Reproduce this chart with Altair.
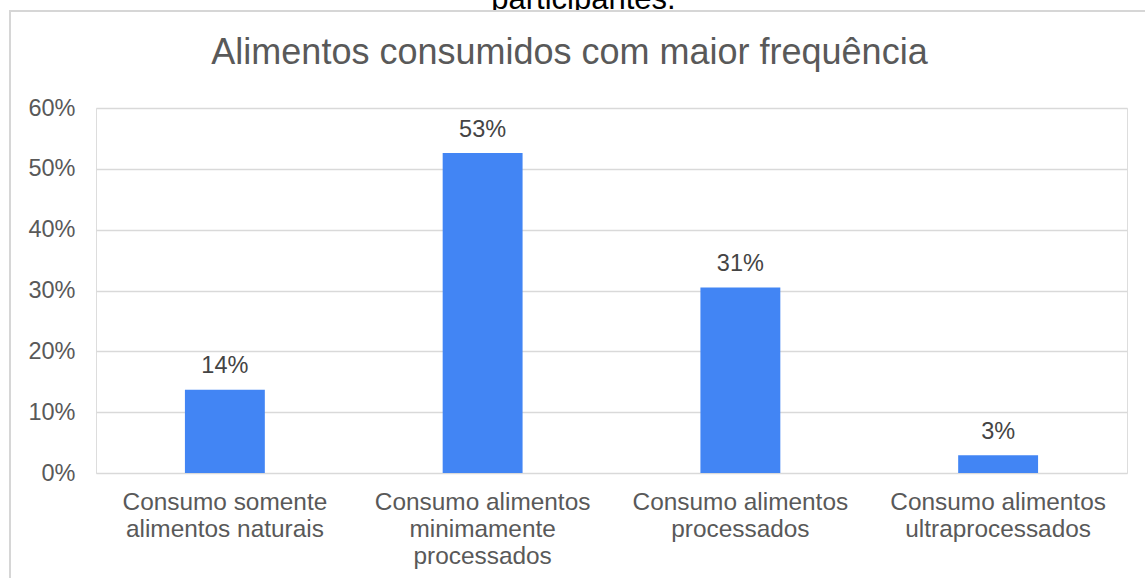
import altair as alt
import pandas as pd

categories = [
    "Consumo somente|alimentos naturais",
    "Consumo alimentos|minimamente|processados",
    "Consumo alimentos|processados",
    "Consumo alimentos|ultraprocessados",
]
values = [13.7, 52.6, 30.5, 2.9]
value_labels = ["14%", "53%", "31%", "3%"]
y_ticks = [0, 10, 20, 30, 40, 50, 60]
title_text = "Alimentos consumidos com maior frequência"
above_text = "participantes."

W, H = 1031, 365
PAD_L, PAD_T = 96, 108
FONT = "Liberation Sans"
BORDER = "#d6d6d6"

df = pd.DataFrame({"cat": categories, "val": values, "lab": value_labels})
one = pd.DataFrame({"t": [above_text]})
one_title = pd.DataFrame({"t": [title_text]})

above = alt.Chart(one).mark_text(
    fontSize=31, color="#000000", align="center", baseline="alphabetic", font=FONT
).encode(x=alt.value(583.5 - PAD_L), y=alt.value(9 - PAD_T), text="t:N")

cover = alt.Chart(one).mark_rect(fill="#ffffff", strokeWidth=0).encode(
    x=alt.value(10 - PAD_L), y=alt.value(11 - PAD_T),
    x2=alt.value(W + 60), y2=alt.value(40 - PAD_T)
)
top_border = alt.Chart(one).mark_rule(color=BORDER, strokeWidth=2).encode(
    x=alt.value(9 - PAD_L), x2=alt.value(W + 60), y=alt.value(11 - PAD_T)
)
left_border = alt.Chart(one).mark_rule(color=BORDER, strokeWidth=2).encode(
    x=alt.value(10 - PAD_L), y=alt.value(11 - PAD_T), y2=alt.value(H + 200)
)

title = alt.Chart(one_title).mark_text(
    fontSize=36, color="#595959", align="center", baseline="alphabetic", font=FONT
).encode(x=alt.value(569.5 - PAD_L), y=alt.value(64.3 - PAD_T), text="t:N")

xenc = alt.X(
    "cat:N", sort=None,
    scale=alt.Scale(paddingInner=0.69, paddingOuter=0.345),
    axis=alt.Axis(
        title=None, labelExpr="split(datum.label, '|')", labelAngle=0,
        labelFontSize=24.4, labelColor="#595959", labelFont=FONT,
        labelBaseline="alphabetic", labelPadding=36, labelLineHeight=27,
        labelLimit=400, labelOverlap=False, ticks=False, tickSize=0,
        domain=False, grid=False,
    ),
)
yenc = alt.Y(
    "val:Q",
    scale=alt.Scale(domain=[0, 60], nice=False),
    axis=alt.Axis(
        title=None, values=y_ticks, labelExpr="datum.value + '%'",
        labelFontSize=23.5, labelColor="#595959", labelFont=FONT,
        labelPadding=21, ticks=False, tickSize=0, domain=False,
        grid=True, gridColor="#d9d9d9", gridWidth=1.5,
    ),
)

bars = alt.Chart(df).mark_bar(color="#4285F4").encode(x=xenc, y=yenc)
labels = alt.Chart(df).mark_text(
    fontSize=23.5, color="#444444", baseline="alphabetic", dy=-16.5, font=FONT
).encode(x=alt.X("cat:N", sort=None), y="val:Q", text="lab:N")

chart = alt.layer(above, cover, top_border, left_border, title, bars, labels).properties(
    width=W, height=H,
    autosize=alt.AutoSizeParams(type="none"),
    padding={"left": PAD_L, "top": PAD_T, "right": 1145 - PAD_L - W, "bottom": 578 - PAD_T - H},
).configure_view(stroke="transparent", strokeWidth=0, strokeOpacity=0).configure(background="#ffffff")

chart.save("out.html", embed_options={"renderer": "svg", "actions": False})
